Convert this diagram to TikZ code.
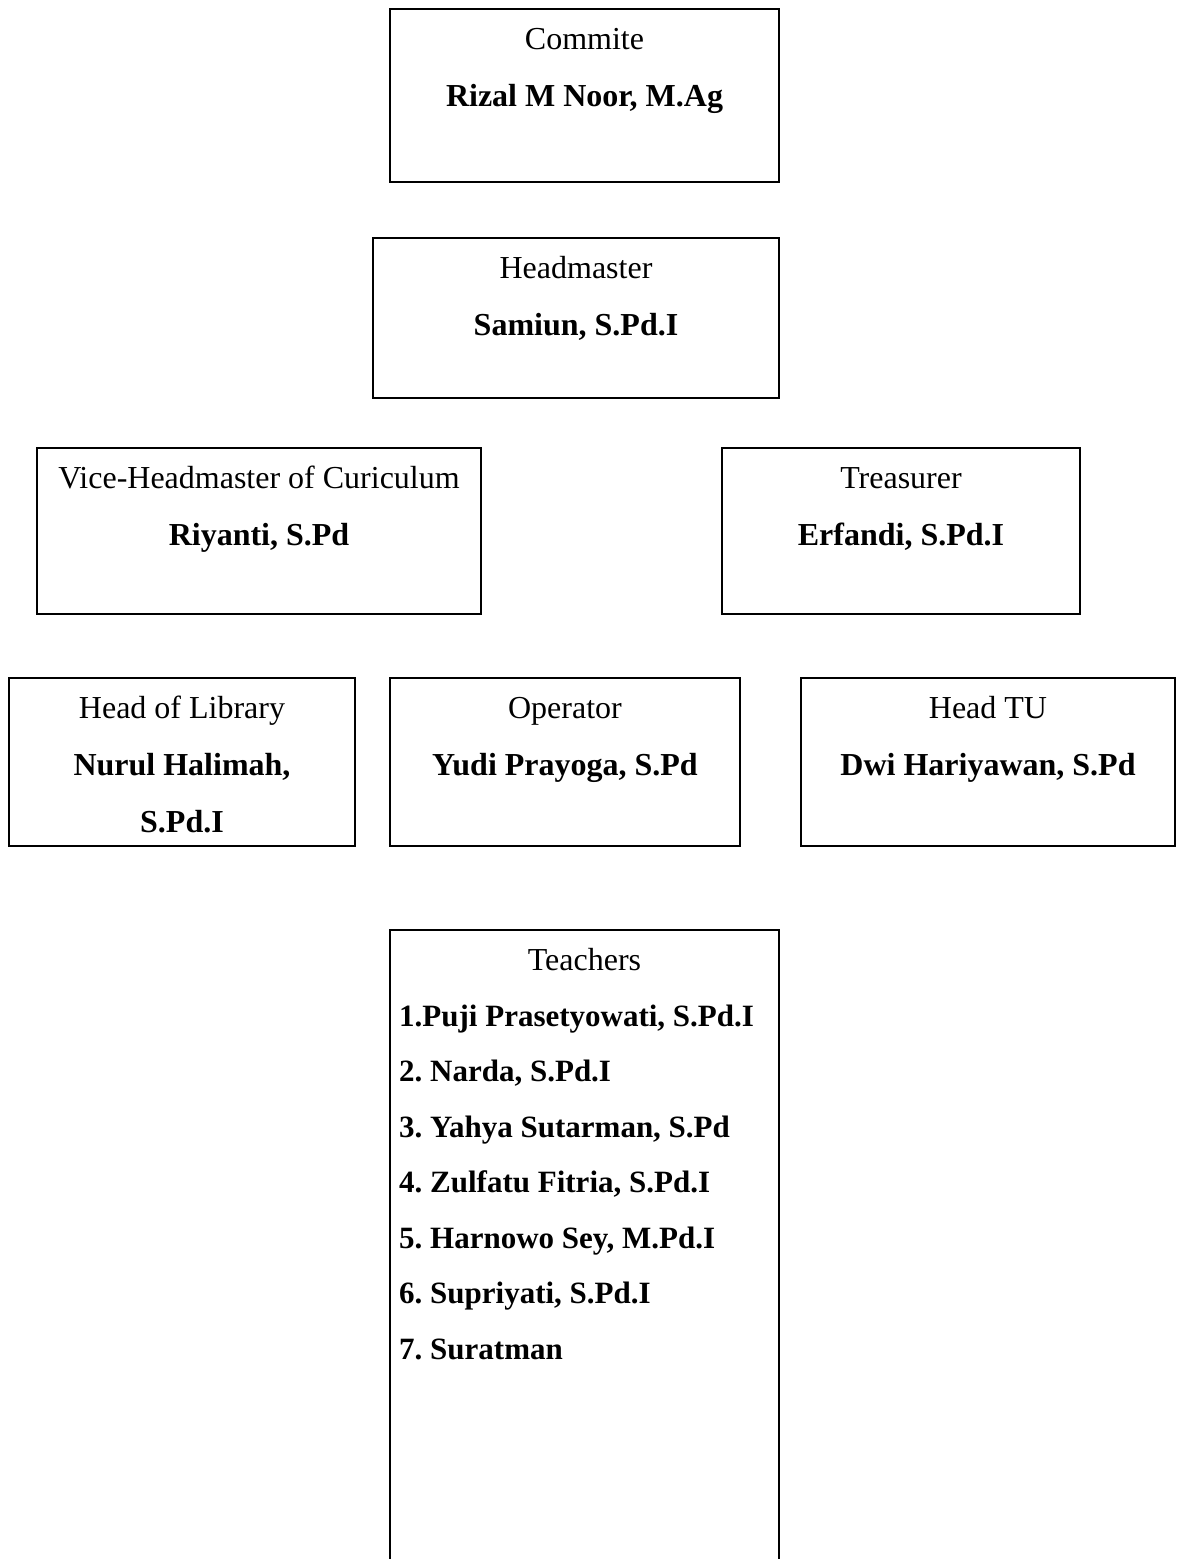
\documentclass[tikz,border=0pt]{standalone}
\usepackage{fontspec}
\setmainfont{Liberation Serif}
\frenchspacing
\begin{document}
\begin{tikzpicture}[x=1pt,y=-1pt,
  orgbox/.style={draw, line width=1.6pt, rectangle, inner sep=0pt, outer sep=0pt, anchor=north west},
  role/.style={anchor=base, inner sep=0pt, font=\fontsize{32}{40}\selectfont},
  person/.style={anchor=base, inner sep=0pt, font=\fontsize{32}{40}\selectfont\bfseries},
  member/.style={anchor=base west, inner sep=0pt, font=\fontsize{31}{40}\selectfont\bfseries}]
\useasboundingbox[fill=white] (0,0) rectangle (1176,1559);
\clip (0,0) rectangle (1176,1559);
% boxes
\node[orgbox, minimum width=389pt, minimum height=173pt] (com) at (390,9) {};
\node[orgbox, minimum width=406pt, minimum height=160pt] (head) at (373,238) {};
\node[orgbox, minimum width=444pt, minimum height=166pt] (vice) at (37,448) {};
\node[orgbox, minimum width=358pt, minimum height=166pt] (tre) at (722,448) {};
\node[orgbox, minimum width=346pt, minimum height=168pt] (lib) at (9,678) {};
\node[orgbox, minimum width=350pt, minimum height=168pt] (op) at (390,678) {};
\node[orgbox, minimum width=374pt, minimum height=168pt] (tu) at (801,678) {};
\node[orgbox, minimum width=389pt, minimum height=660pt] (tea) at (390,930) {};
% texts
\node[role] (comR) at ([yshift=-40pt]com.north) {Commite};
\node[person] (comP) at ([yshift=-97pt]com.north) {Rizal M Noor, M.Ag};
\node[role] (headR) at ([yshift=-40pt]head.north) {Headmaster};
\node[person] (headP) at ([yshift=-97pt]head.north) {Samiun, S.Pd.I};
\node[role] (viceR) at ([yshift=-40pt]vice.north) {Vice-Headmaster of Curiculum};
\node[person] (viceP) at ([yshift=-97pt]vice.north) {Riyanti, S.Pd};
\node[role] (treR) at ([yshift=-40pt]tre.north) {Treasurer};
\node[person] (treP) at ([yshift=-97pt]tre.north) {Erfandi, S.Pd.I};
\node[role] (libR) at ([yshift=-40pt]lib.north) {Head of Library};
\node[person] (libP) at ([yshift=-97pt]lib.north) {Nurul Halimah,};
\node[person] (libP2) at ([yshift=-154pt]lib.north) {S.Pd.I};
\node[role] (opR) at ([yshift=-40pt]op.north) {Operator};
\node[person] (opP) at ([yshift=-97pt]op.north) {Yudi Prayoga, S.Pd};
\node[role] (tuR) at ([yshift=-40pt]tu.north) {Head TU};
\node[person] (tuP) at ([yshift=-97pt]tu.north) {Dwi Hariyawan, S.Pd};
\node[role] (teaR) at ([yshift=-40pt]tea.north) {Teachers};
\node[member] (t1) at ([xshift=9pt,yshift=-96pt]tea.north west) {1.Puji Prasetyowati, S.Pd.I};
\node[member] (t2) at ([yshift=-55.5pt]t1.base west) {2. Narda, S.Pd.I};
\node[member] (t3) at ([yshift=-55.5pt]t2.base west) {3. Yahya Sutarman, S.Pd};
\node[member] (t4) at ([yshift=-55.5pt]t3.base west) {4. Zulfatu Fitria, S.Pd.I};
\node[member] (t5) at ([yshift=-55.5pt]t4.base west) {5. Harnowo Sey, M.Pd.I};
\node[member] (t6) at ([yshift=-55.5pt]t5.base west) {6. Supriyati, S.Pd.I};
\node[member] (t7) at ([yshift=-55.5pt]t6.base west) {7. Suratman};
\end{tikzpicture}
\end{document}
